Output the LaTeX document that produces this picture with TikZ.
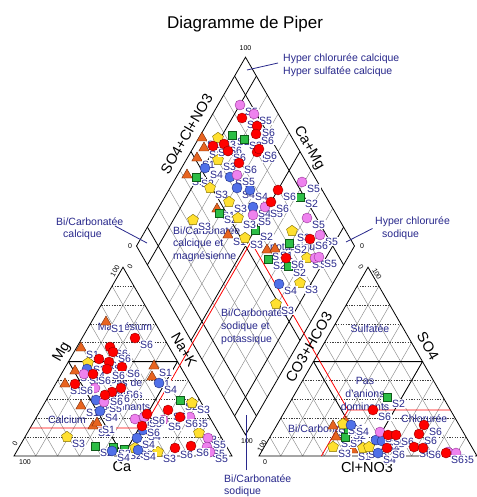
\documentclass[tikz,border=0pt]{standalone}
\usepackage{fontspec}
\setmainfont{Liberation Sans}
\usetikzlibrary{calc,shapes.geometric}
\definecolor{labblue}{RGB}{40,40,140}
\definecolor{cR}{RGB}{255,0,0}\definecolor{cRd}{RGB}{150,0,0}
\definecolor{cP}{RGB}{238,130,238}\definecolor{cPd}{RGB}{150,50,150}
\definecolor{cB}{RGB}{80,112,232}\definecolor{cBd}{RGB}{30,45,130}
\definecolor{cY}{RGB}{255,224,48}\definecolor{cYd}{RGB}{130,110,0}
\definecolor{cG}{RGB}{45,190,70}\definecolor{cGd}{RGB}{15,90,25}
\definecolor{cO}{RGB}{232,100,32}\definecolor{cOd}{RGB}{120,45,10}
\newcounter{ptc}
\def\numR{6}\def\numP{5}\def\numB{4}\def\numY{3}\def\numG{2}\def\numO{1}
\newcommand\pnt[3]{\stepcounter{ptc}%
 \node[m#1] (p\theptc) at (#2,#3) {};%
 \node[ptlab] (q\theptc) at (#2+4.5,#3+6.5) {S\csname num#1\endcsname};}
\begin{document}
\begin{tikzpicture}[x=1pt,y=-1pt,
 gridg/.style={black!45,line width=0.45pt},
 gridk/.style={black,line width=0.8pt},
 gridd/.style={black!75,line width=0.5pt,dash pattern=on 1.3pt off 1.3pt},
 redl/.style={red,line width=0.8pt},
 lead/.style={labblue,line width=0.8pt},
 zone/.style={font=\fontsize{10.5}{12.5}\selectfont,text=labblue,inner sep=0pt,anchor=west},
 axl/.style={font=\fontsize{14.5}{16}\selectfont,inner sep=0pt},
 tick/.style={font=\fontsize{7}{8}\selectfont,inner sep=0pt},
 ptlab/.style={font=\fontsize{10.5}{10.5}\selectfont,text=labblue,fill=white,inner xsep=0.5pt,inner ysep=1pt,anchor=west,text height=7.6pt,text depth=0pt},
 mR/.style={circle,draw=cRd,fill=cR,minimum size=10pt,inner sep=0pt,line width=0.4pt},
 mP/.style={circle,draw=cPd,fill=cP,minimum size=10pt,inner sep=0pt,line width=0.4pt},
 mB/.style={circle,draw=cBd,fill=cB,minimum size=10pt,inner sep=0pt,line width=0.4pt},
 mY/.style={regular polygon,regular polygon sides=5,draw=cYd,fill=cY,minimum size=11.5pt,inner sep=0pt,line width=0.4pt},
 mG/.style={rectangle,draw=cGd,fill=cG,minimum size=8pt,inner sep=0pt,line width=0.4pt},
 mO/.style={regular polygon,regular polygon sides=3,draw=cOd,fill=cO,minimum size=12pt,inner sep=0pt,line width=0.4pt}]
\useasboundingbox (0,0) rectangle (476,497);
\fill[white] (0,0) rectangle (476,497);
% frames
\coordinate (A) at (14,456); \coordinate (B) at (232,456); \coordinate (C) at (123,267.2);
\coordinate (D) at (259,456); \coordinate (E) at (477,456); \coordinate (F) at (368,267.2);
\coordinate (L) at (136.5,246); \coordinate (T) at (245.5,57.2); \coordinate (Rv) at (354.5,246); \coordinate (Bt) at (245.5,434.8);
% diamond grid
\foreach \k in {2,3,4,6,7,8}{
 \pgfmathsetmacro\f{\k/10}
 \draw[gridg] ($(L)!\f!(Bt)$) -- ($(T)!\f!(Rv)$);
 \draw[gridg] ($(L)!\f!(T)$) -- ($(Bt)!\f!(Rv)$);
}
\foreach \f in {0.1,0.5,0.9}{
 \draw[gridk] ($(L)!\f!(Bt)$) -- ($(T)!\f!(Rv)$);
 \draw[gridk] ($(L)!\f!(T)$) -- ($(Bt)!\f!(Rv)$);
}
\draw[gridk] (L)--(T)--(Rv)--(Bt)--cycle;
% triangle grids
\foreach \ta/\tb/\tc in {A/B/C,D/E/F}{
 \foreach \k in {1,...,9}{
  \pgfmathsetmacro\f{\k/10}\pgfmathsetmacro\g{1-\k/10}
  \draw[gridg] ($(\ta)!\f!(\tb)$) -- ($(\tb)!\g!(\tc)$);
  \draw[gridg] ($(\ta)!\f!(\tb)$) -- ($(\ta)!\f!(\tc)$);
  \draw[gridd] ($(\ta)!\f!(\tc)$) -- ($(\tb)!\f!(\tc)$);
 }
 \draw[gridk] ($(\ta)!0.5!(\tc)$) -- ($(\tb)!0.5!(\tc)$) -- ($(\ta)!0.5!(\tb)$) -- cycle;
 \draw[gridk] (\ta)--(\tb)--(\tc)--cycle;
}
% red projection lines
\coordinate (Pc) at (143.5,428); \coordinate (Pa) at (348,410); \coordinate (X) at (251,241.9);
\coordinate (Pcl) at (30.2,428); \coordinate (Pcb) at (159.7,456);
\coordinate (Par) at (450.4,410); \coordinate (Pab) at (321.4,456);
\draw[redl] (Pcl) -- (Pc) -- (X) -- (Pa) -- (Par);
\draw[redl] (Pc) -- (Pcb);
\draw[redl] (Pa) -- (Pab);
% title
\node[font=\fontsize{17}{19}\selectfont,anchor=base] (title) at (245,29) {Diagramme de Piper};
% axis labels
\node[axl,rotate=60] (ax1) at (186.5,134) {SO4+Cl+NO3};
\node[axl,rotate=-60] (ax2) at (309,148) {Ca+Mg};
\node[axl,rotate=60] (ax3) at (62,352) {Mg};
\node[axl,rotate=-60] (ax4) at (184,350) {Na+K};
\node[axl] (ax5) at (122,467) {Ca};
\node[axl,rotate=60] (ax6) at (309,347) {CO3+HCO3};
\node[axl,rotate=-60] (ax7) at (428,346) {SO4};
\node[axl] (ax8) at (367,467) {Cl+NO3};
% ticks
\node[tick] (t1) at (245.5,48) {100};
\node[tick] (t2) at (130,246) {0};
\node[tick] (t3) at (362,246) {0};
\node[tick] (t4) at (247,441) {100};
\node[tick,rotate=60] (t5) at (115,271) {100};
\node[tick,rotate=60] (t6) at (130,267) {0};
\node[tick,rotate=60] (t7) at (15,444) {0};
\node[tick] (t8) at (25,462) {100};
\node[tick,rotate=-60] (t9) at (361,267) {0};
\node[tick,rotate=-60] (t10) at (377,274) {100};
\node[tick,rotate=60] (t11) at (262,446) {100};
\node[tick] (t12) at (265,462) {0};
% zone labels
\node[zone] (z1) at (173,231) {Bi/Carbonatée};
\node[zone] (z2) at (173,244) {calcique et};
\node[zone] (z3) at (173,257) {magnésienne};
\node[zone] (z4) at (221,313) {Bi/Carbonatée};
\node[zone] (z5) at (221,327) {sodique et};
\node[zone] (z6) at (221,340) {potassique};
\node[zone] (z9) at (270,248) {potassique};
\node[zone,anchor=center] (z10) at (125,328) {Magnésium};
\node[zone,anchor=center] (z11) at (67,420) {Calcium};
\node[zone,anchor=center] (z12) at (126,383) {Pas de};
\node[zone,anchor=center] (z13) at (126,395) {cations};
\node[zone,anchor=center] (z14) at (126,407) {dominants};
\node[zone,anchor=center] (z15) at (370,329) {Sulfatée};
\node[zone,anchor=center] (z16) at (365,381) {Pas};
\node[zone,anchor=center] (z17) at (365,394) {d'anions};
\node[zone,anchor=center] (z18) at (365,407) {dominants};
\node[zone] (z19) at (401,419) {Chlorurée};
\node[zone] (z20) at (288,429) {Bi/Carbonatée};
% leader labels
\node[zone] (h1) at (283,59) {Hyper chlorurée calcique};
\node[zone] (h2) at (283,72) {Hyper sulfatée calcique};
\coordinate (h1a) at (247,70); \coordinate (h1b) at (278,63);
\draw[lead] (h1a) -- (h1b);
\node[zone] (h3) at (56,222) {Bi/Carbonatée};
\node[zone] (h4) at (63,235) {calcique};
\coordinate (h3a) at (115,226); \coordinate (h3b) at (147,243);
\draw[lead] (h3a) -- (h3b);
\node[zone] (h5) at (375,222) {Hyper chlorurée};
\node[zone] (h6) at (382,235) {sodique};
\coordinate (h5a) at (372.5,228.5); \coordinate (h5b) at (346,242);
\draw[lead] (h5a) -- (h5b);
% data points: S1
\pnt{O}{202}{138}\pnt{O}{204}{148}\pnt{O}{197}{158}\pnt{O}{187}{175}\pnt{O}{217}{209}\pnt{O}{228}{235}\pnt{O}{267}{250}\pnt{O}{275}{249}
\pnt{O}{106}{322}\pnt{O}{81}{348}\pnt{O}{75}{371}\pnt{O}{154}{366}\pnt{O}{152}{377}\pnt{O}{65}{384}\pnt{O}{81}{406}\pnt{O}{93}{426}\pnt{O}{97}{423}
\pnt{O}{333}{426}\pnt{O}{336}{437}\pnt{O}{346}{422}\pnt{O}{353}{450}
% S2
\pnt{G}{232}{135}\pnt{G}{244}{139}\pnt{G}{196}{177}\pnt{G}{219}{213}\pnt{G}{300}{197}\pnt{G}{255}{230}\pnt{G}{289}{243}\pnt{G}{268}{259}\pnt{G}{288}{266}
\pnt{G}{180}{400}\pnt{G}{95}{446}\pnt{G}{124}{449}\pnt{G}{113}{447}
\pnt{G}{387}{397}\pnt{G}{345}{437}\pnt{G}{348}{429}
% S3
\pnt{Y}{218}{138}\pnt{Y}{218}{160}\pnt{Y}{210}{188}\pnt{Y}{229}{202}\pnt{Y}{193}{220}\pnt{Y}{238}{218}\pnt{Y}{245}{238}\pnt{Y}{292}{231}\pnt{Y}{307}{258}\pnt{Y}{300}{283}\pnt{Y}{276}{304}
\pnt{Y}{88}{363}\pnt{Y}{192}{403}\pnt{Y}{67}{437}\pnt{Y}{199}{433}\pnt{Y}{135}{448}\pnt{Y}{158}{452}
\pnt{Y}{343}{424}\pnt{Y}{333}{447}\pnt{Y}{363}{448}\pnt{Y}{369}{447}
% S4
\pnt{B}{205}{168}\pnt{B}{230}{177}\pnt{B}{237}{188}\pnt{B}{250}{190}\pnt{B}{253}{207}\pnt{B}{279}{284}
\pnt{B}{87}{369}\pnt{B}{159}{383}\pnt{B}{96}{400}\pnt{B}{100}{411}\pnt{B}{143}{430}\pnt{B}{137}{438}\pnt{B}{112}{451}\pnt{B}{138}{450}
\pnt{B}{351}{425}\pnt{B}{376}{440}\pnt{B}{382}{441}\pnt{B}{378}{453}\pnt{B}{393}{437}
% S5
\pnt{P}{240}{105}\pnt{P}{254}{114}\pnt{P}{237}{175}\pnt{P}{302}{182}\pnt{P}{265}{207}\pnt{P}{253}{215}\pnt{P}{307}{218}\pnt{P}{320}{235}\pnt{P}{315}{258}\pnt{P}{319}{257}
\pnt{P}{84}{374}\pnt{P}{95}{388}\pnt{P}{104}{402}\pnt{P}{135}{419}\pnt{P}{144}{417}\pnt{P}{163}{420}\pnt{P}{190}{417}\pnt{P}{208}{438}\pnt{P}{207}{447}\pnt{P}{210}{452}
\pnt{P}{380}{432}\pnt{P}{448}{452}\pnt{P}{456}{453}
% S6
\pnt{R}{242}{118}\pnt{R}{257}{126}\pnt{R}{256}{134}\pnt{R}{213}{146}\pnt{R}{224}{144}\pnt{R}{228}{151}\pnt{R}{257}{152}\pnt{R}{259}{149}\pnt{R}{239}{163}\pnt{R}{278}{190}\pnt{R}{271}{202}\pnt{R}{310}{239}\pnt{R}{286}{258}
\pnt{R}{135}{338}\pnt{R}{110}{347}\pnt{R}{113}{352}\pnt{R}{99}{359}\pnt{R}{109}{362}\pnt{R}{122}{367}\pnt{R}{107}{369}\pnt{R}{93}{374}\pnt{R}{75}{384}\pnt{R}{121}{388}\pnt{R}{112}{392}\pnt{R}{105}{395}\pnt{R}{147}{414}\pnt{R}{168}{410}\pnt{R}{180}{417}\pnt{R}{142}{426}\pnt{R}{175}{448}\pnt{R}{191}{446}
\pnt{R}{373}{410}\pnt{R}{388}{435}\pnt{R}{396}{435}\pnt{R}{419}{434}\pnt{R}{424}{425}\pnt{R}{387}{448}\pnt{R}{414}{447}\pnt{R}{423}{448}\pnt{R}{446}{453}
% bottom leader
\node[zone] (h7) at (224,479) {Bi/Carbonatée};
\node[zone] (h8) at (224,492) {sodique};
\coordinate (h7a) at (246,470); \coordinate (h7b) at (246,415);
\draw[lead] (h7a) -- (h7b);
\end{tikzpicture}
\end{document}
